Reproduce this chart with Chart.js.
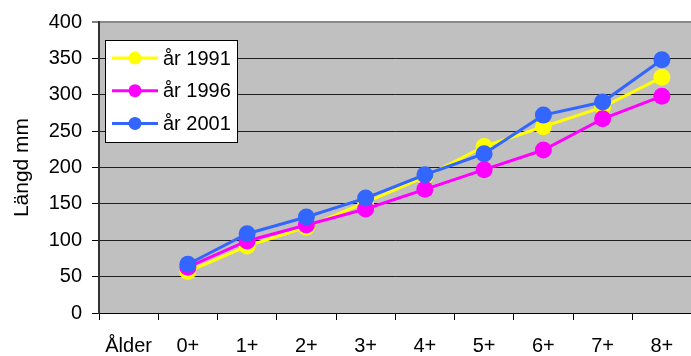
<!DOCTYPE html>
<html>
<head>
<meta charset="utf-8">
<script src="https://cdn.jsdelivr.net/npm/chart.js@4/dist/chart.umd.min.js"></script>
<style>
  html, body { margin: 0; padding: 0; background: #fff; overflow: hidden; }
  #wrap { width: 691px; height: 356px; overflow: hidden; }
  canvas { display: block; }
</style>
</head>
<body>
<div id="wrap"><canvas id="c" width="700" height="356"></canvas></div>
<script>
// Age classes (first slot holds the axis caption)
const categories = ['Ålder', '0+', '1+', '2+', '3+', '4+', '5+', '6+', '7+', '8+'];
// Mean length (mm) per age class
const len1991 = [null, 57, 92, 118, 152, 187, 229, 256, 283, 324];
const len1996 = [null, 63, 99, 121, 143, 170, 197, 224, 267, 298];
const len2001 = [null, 67, 109, 132, 158, 190, 219, 272, 290, 348];
const yTicks = [0, 50, 100, 150, 200, 250, 300, 350, 400];

const FONT = 'Liberation Sans, Arial, sans-serif';

const series = [
  { label: 'år 1991', data: len1991, color: '#FFFF00', order: 2 },
  { label: 'år 1996', data: len1996, color: '#FF00FF', order: 1 },
  { label: 'år 2001', data: len2001, color: '#3366FF', order: 0 }
];

// Grey plot background
const plotBg = {
  id: 'plotBg',
  beforeDraw(chart) {
    const a = chart.chartArea, ctx = chart.ctx;
    ctx.save();
    ctx.fillStyle = '#C0C0C0';
    ctx.fillRect(a.left, a.top, a.right - a.left, a.bottom - a.top);
    ctx.restore();
  }
};

// Boxed legend inside the plot, upper left
const boxLegend = {
  id: 'boxLegend',
  afterDraw(chart) {
    const ctx = chart.ctx;
    const x0 = 105, y0 = 40, w = 132, h = 102;
    ctx.save();
    ctx.fillStyle = '#fff';
    ctx.fillRect(x0, y0, w, h);
    ctx.strokeStyle = '#000';
    ctx.lineWidth = 1;
    ctx.strokeRect(x0 + 0.5, y0 + 0.5, w, h);
    ctx.font = '20px ' + FONT;
    ctx.textBaseline = 'middle';
    ctx.textAlign = 'left';
    chart.data.datasets.forEach((ds, i) => {
      const cy = 58 + i * 32.7;
      ctx.strokeStyle = ds.borderColor;
      ctx.lineWidth = 3;
      ctx.beginPath();
      ctx.moveTo(112, cy);
      ctx.lineTo(158, cy);
      ctx.stroke();
      ctx.fillStyle = ds.backgroundColor;
      ctx.beginPath();
      ctx.arc(135, cy, 6.5, 0, Math.PI * 2);
      ctx.fill();
      ctx.fillStyle = '#000';
      ctx.fillText(ds.label, 163, cy + 1);
    });
    ctx.restore();
  }
};

new Chart(document.getElementById('c'), {
  type: 'line',
  data: {
    labels: categories,
    datasets: series.map(s => ({
      label: s.label,
      data: s.data,
      borderColor: s.color,
      backgroundColor: s.color,
      pointBackgroundColor: s.color,
      pointBorderColor: s.color,
      borderWidth: 3,
      pointRadius: 8.5,
      pointBorderWidth: 0,
      tension: 0,
      order: s.order,
      spanGaps: false
    }))
  },
  options: {
    responsive: false,
    animation: false,
    events: [],
    layout: { padding: { top: 21, right: 3, left: 0, bottom: 0 } },
    plugins: { legend: { display: false }, tooltip: { enabled: false } },
    scales: {
      x: {
        offset: true,
        grid: {
          offset: true,
          drawOnChartArea: false,
          drawTicks: true,
          tickLength: 7,
          tickColor: '#000',
          tickWidth: 1
        },
        border: { display: true, color: '#000', width: 1 },
        ticks: {
          color: '#000',
          font: { family: FONT, size: 20 },
          padding: 14,
          maxRotation: 0,
          autoSkip: false
        },
        afterFit(scale) { scale.height = 43; }
      },
      y: {
        min: 0,
        max: 400,
        afterBuildTicks(scale) { scale.ticks = yTicks.map(v => ({ value: v })); },
        grid: {
          color: ctx => (ctx.tick && ctx.tick.value === 400) ? '#8a8a8a' : '#1e1e1e',
          lineWidth: ctx => (ctx.tick && ctx.tick.value === 400) ? 2 : 1,
          drawTicks: true,
          tickLength: 7,
          tickColor: '#000',
          tickWidth: 1
        },
        border: { display: true, color: '#333', width: 2 },
        ticks: {
          color: '#000',
          font: { family: FONT, size: 20 },
          padding: 10
        },
        title: {
          display: true,
          text: 'Längd mm',
          color: '#000',
          font: { family: FONT, size: 21 },
          padding: { top: 10, bottom: 0 }
        },
        afterFit(scale) { scale.width = 99; }
      }
    }
  },
  plugins: [plotBg, boxLegend]
});
</script>
</body>
</html>
